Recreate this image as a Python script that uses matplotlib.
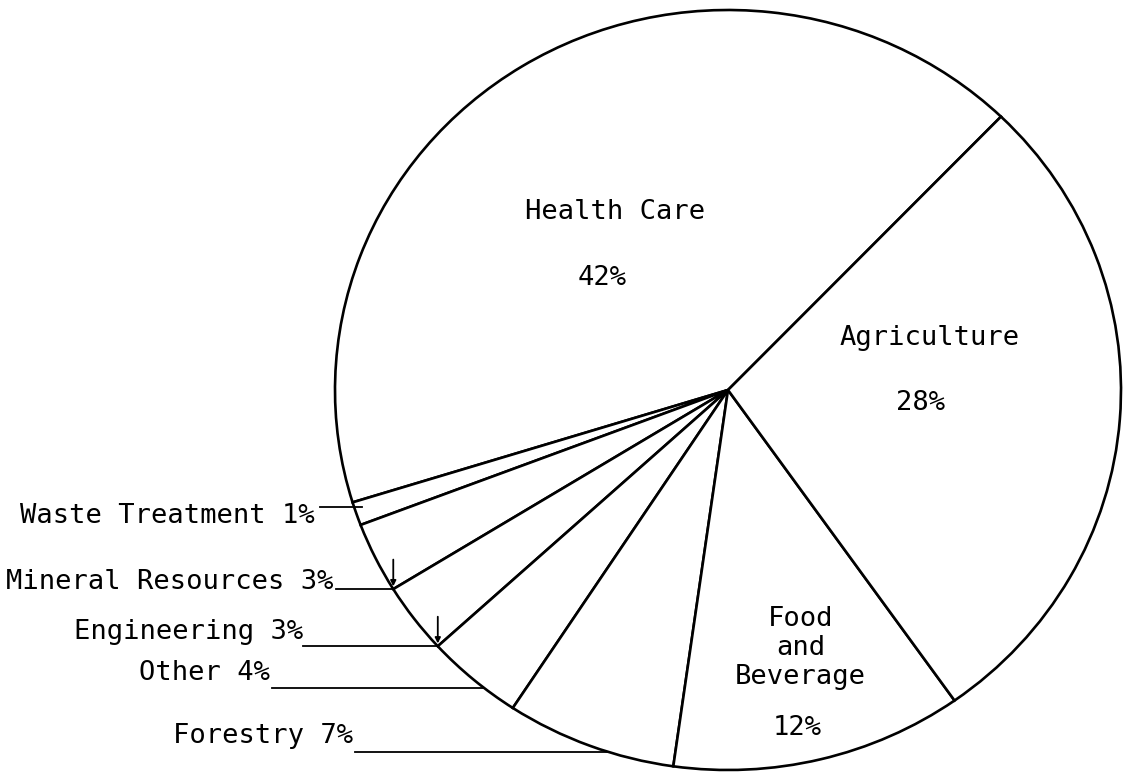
# Pie chart of shares by sector, typewriter style
import numpy as np
import matplotlib.pyplot as plt

# Data
sectors = ['Health Care', 'Waste Treatment', 'Mineral Resources', 'Engineering',
           'Other', 'Forestry', 'Food and Beverage', 'Agriculture']
shares = [42, 1, 3, 3, 4, 7, 12, 28]

plt.rcParams['font.family'] = ['DejaVu Sans Mono']
fs = 19.5

fig = plt.figure(figsize=(11.26, 7.72), dpi=100)
ax = fig.add_axes([0, 0, 1, 1])

wedges, _ = ax.pie(shares, startangle=46, counterclock=True, radius=1,
                   colors=['white'] * len(shares),
                   wedgeprops=dict(edgecolor='black', linewidth=1.9))

# pixel layout -> data limits (slightly wider than tall, like the scan)
ax.set_aspect('auto')
ax.set_xlim(-728 / 393, (1126 - 728) / 393)
ax.set_ylim(-(772 - 390) / 380, 390 / 380)
ax.axis('off')


def edge_point(theta):
    t = np.deg2rad(theta)
    return np.cos(t), np.sin(t)


# Labels inside the big slices
ax.text(-0.288, 0.468, 'Health Care', ha='center', va='center', fontsize=fs)
ax.text(-0.321, 0.295, '42%', ha='center', va='center', fontsize=fs)
ax.text(0.514, 0.137, 'Agriculture', ha='center', va='center', fontsize=fs)
ax.text(0.489, -0.034, '28%', ha='center', va='center', fontsize=fs)
ax.text(0.185, -0.679, 'Food\nand\nBeverage', ha='center', va='center',
        fontsize=fs, linespacing=1.15)
ax.text(0.176, -0.889, '12%', ha='center', va='center', fontsize=fs)

# Labels outside the small slices, with leader lines
# (text right x, line start x, position along the wedge, baseline offset, arrow tick)
outside = {
    'Waste Treatment': (-1.051, -1.038, 0.2, -0.042, False),
    'Mineral Resources': (-1.005, -0.997, 1.0, 0.0, True),
    'Engineering': (-1.081, -1.081, 1.0, 0.018, True),
    'Other': (-1.165, -1.160, 0.64, 0.021, False),
    'Forestry': (-0.954, -0.949, 0.61, 0.024, False),
}

for w, name, val in zip(wedges, sectors, shares):
    if name not in outside:
        continue
    tx, lx, frac, dy, tick = outside[name]
    theta = w.theta1 + frac * (w.theta2 - w.theta1)
    px, py = edge_point(theta)
    end_x = px + 0.02 if name == 'Waste Treatment' else px
    ax.plot([lx, end_x], [py, py], color='black', linewidth=1.3)
    ax.text(tx, py + dy, f'{name} {val}%', ha='right', va='baseline', fontsize=fs)
    if tick:
        ax.annotate('', xy=(px, py), xytext=(px, py + 0.085),
                    arrowprops=dict(arrowstyle='-|>', color='black', lw=1.3,
                                    mutation_scale=8))

fig.savefig('out.png', dpi=100)
